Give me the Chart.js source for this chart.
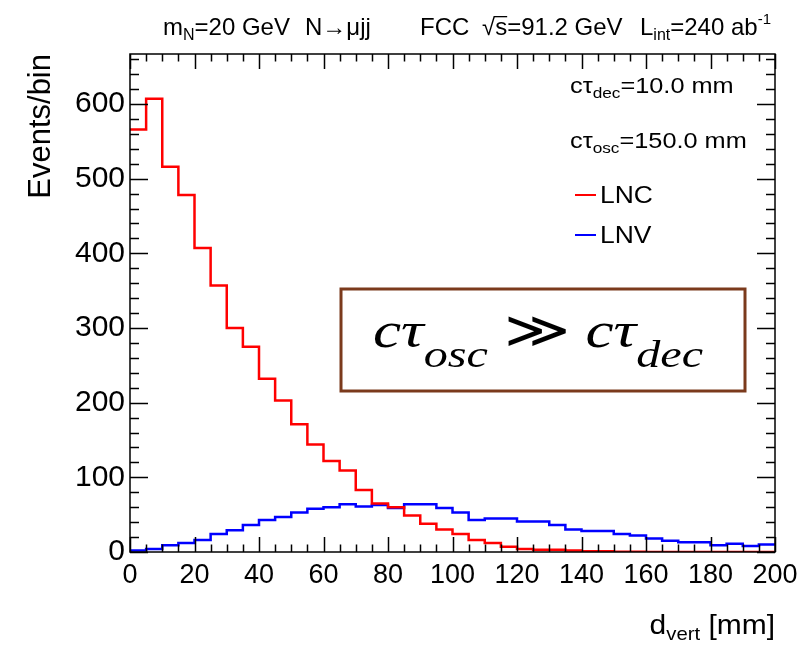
<!DOCTYPE html>
<html>
<head>
<meta charset="utf-8">
<script src="https://cdn.jsdelivr.net/npm/chart.js@4.4.1/dist/chart.umd.min.js"></script>
<style>
  html, body { margin: 0; padding: 0; background: #fff; }
  #wrap { width: 807px; height: 648px; }
</style>
</head>
<body>
<div id="wrap"><canvas id="chart" width="807" height="648"></canvas></div>
<script>
// binning of d_vert [mm]
const binWidth = 5;
const xMin = 0;
const xMax = 200;

// events per bin
const lnc = [566, 607, 516, 478, 407, 357, 300, 275, 232, 203,
             171, 144, 122, 109, 83, 65, 60, 49, 38, 30,
             24, 16, 12, 7, 4, 3, 3, 2, 1, 1,
             0.5, 0.5, 0, 0, 0, 0, 0, 0, 0, 0];
const lnv = [2, 4, 9, 12, 16, 24, 29, 36, 43, 47,
             53, 58, 60, 64, 61, 63, 59, 64, 64, 59,
             53, 43, 45, 45, 41, 41, 36, 30, 28, 28,
             24, 22, 18, 15, 13, 13, 9, 11, 8, 10];

const xTicks = [0, 20, 40, 60, 80, 100, 120, 140, 160, 180, 200];
const yTicks = [0, 100, 200, 300, 400, 500, 600];
const yMax = 667;

const sans = '"Liberation Sans", Arial, Helvetica, sans-serif';
const serif = '"Liberation Serif", "DejaVu Serif", serif';

// histogram -> step points (low edge of each bin, plus closing edge)
function steps(vals) {
  const pts = vals.map((v, i) => ({ x: xMin + i * binWidth, y: v }));
  pts.push({ x: xMin + vals.length * binWidth, y: vals[vals.length - 1] });
  return pts;
}

// text with sub/superscripts: parts = [[text, font, dy], ...], sx = horizontal stretch
function richWidth(ctx, parts, family) {
  let w = 0;
  parts.forEach(p => {
    ctx.font = p[1] + 'px ' + (family || sans);
    w += ctx.measureText(p[0]).width;
  });
  return w;
}
function rich(ctx, parts, x, y, family, sx) {
  ctx.save();
  ctx.translate(x, y);
  ctx.scale(sx || 1, 1);
  let cx = 0;
  parts.forEach(p => {
    ctx.font = p[1] + 'px ' + (family || sans);
    ctx.fillText(p[0], cx, p[2] || 0);
    cx += ctx.measureText(p[0]).width;
  });
  ctx.restore();
}

// ROOT style frame with inner ticks on all four sides
const framePlugin = {
  id: 'frame',
  afterDatasetsDraw(chart) {
    const { ctx, chartArea: a, scales: { x, y } } = chart;
    ctx.save();
    ctx.strokeStyle = '#000';
    ctx.lineWidth = 1.5;
    ctx.strokeRect(a.left, a.top, a.right - a.left, a.bottom - a.top);
    ctx.beginPath();
    for (let v = xMin; v <= xMax; v += binWidth) {
      const px = Math.round(x.getPixelForValue(v)) + 0.5;
      const len = v % 20 === 0 ? 15 : 7.5;
      ctx.moveTo(px, a.bottom); ctx.lineTo(px, a.bottom - len);
      ctx.moveTo(px, a.top); ctx.lineTo(px, a.top + len);
    }
    for (let v = 0; v <= yMax; v += 20) {
      const py = Math.round(y.getPixelForValue(v)) + 0.5;
      const len = v % 100 === 0 ? 18 : 9;
      ctx.moveTo(a.left, py); ctx.lineTo(a.left + len, py);
      ctx.moveTo(a.right, py); ctx.lineTo(a.right - len, py);
    }
    ctx.stroke();
    ctx.restore();
  }
};

const textPlugin = {
  id: 'texts',
  afterDraw(chart) {
    const { ctx, chartArea: a } = chart;
    ctx.save();
    ctx.fillStyle = '#000';
    ctx.textBaseline = 'alphabetic';
    ctx.textAlign = 'left';

    // header, phrase by phrase
    const hy = 35;
    rich(ctx, [['m', 24], ['N', 16, 5], ['=20 GeV', 24]], 163, hy);
    rich(ctx, [['N\u2192\u03bcjj', 24]], 305, hy);
    rich(ctx, [['FCC', 24]], 420, hy);
    rich(ctx, [['\u221as=91.2 GeV', 24]], 482, hy);
    ctx.font = '24px ' + sans;
    const rootW = ctx.measureText('\u221a').width;
    const sW = ctx.measureText('s').width;
    ctx.fillRect(482 + rootW - 1, hy - 19, sW + 1, 1.3);
    rich(ctx, [['L', 24], ['int', 16, 5], ['=240 ab', 24], ['-1', 15, -11]], 640, hy);

    // parameters
    rich(ctx, [['c\u03c4', 22], ['dec', 15, 5], ['=10.0 mm', 22]], 570, 93, sans, 1.15);
    rich(ctx, [['c\u03c4', 22], ['osc', 15, 5], ['=150.0 mm', 22]], 570, 148, sans, 1.15);

    // legend
    chart.data.datasets.forEach((ds, i) => {
      const yy = 195 + i * 40;
      ctx.strokeStyle = ds.borderColor;
      ctx.lineWidth = 2;
      ctx.beginPath(); ctx.moveTo(575, yy); ctx.lineTo(596, yy); ctx.stroke();
      rich(ctx, [[ds.label, 23]], 600, yy + 8, sans, 1.15);
    });

    // axis titles
    ctx.save();
    ctx.translate(50, a.top);
    ctx.rotate(-Math.PI / 2);
    ctx.textAlign = 'right';
    ctx.font = '31px ' + sans;
    ctx.fillText('Events/bin', 0, 0);
    ctx.restore();

    const xt = [['d', 28], ['vert', 19, 6], [' [mm]', 28]];
    const xs = 1.07;
    rich(ctx, xt, a.right - richWidth(ctx, xt) * xs, 634, sans, xs);

    // boxed annotation
    ctx.strokeStyle = '#7b3a1c';
    ctx.lineWidth = 3;
    ctx.strokeRect(341, 289, 404, 102);
    const ann = [['c\u03c4', 'italic 50', 0], ['osc', 'italic 38', 20], [' \u226b ', '50', 0],
                 ['c\u03c4', 'italic 50', 0], ['dec', 'italic 38', 20]];
    const aw = richWidth(ctx, ann, serif);
    rich(ctx, ann, 373, 347, serif, 330 / aw);
    ctx.restore();
  }
};

new Chart(document.getElementById('chart'), {
  type: 'line',
  data: {
    datasets: [
      { label: 'LNC', data: steps(lnc), borderColor: '#ff0000', borderWidth: 2.5,
        stepped: 'before', pointRadius: 0, fill: false },
      { label: 'LNV', data: steps(lnv), borderColor: '#0000ff', borderWidth: 2.5,
        stepped: 'before', pointRadius: 0, fill: false }
    ]
  },
  options: {
    responsive: false,
    animation: false,
    layout: { padding: { left: 0, right: 32, top: 54, bottom: 0 } },
    plugins: { legend: { display: false }, tooltip: { enabled: false } },
    scales: {
      x: {
        type: 'linear', min: xMin, max: xMax,
        grid: { display: false, drawTicks: false },
        border: { display: false },
        afterBuildTicks: s => { s.ticks = xTicks.map(v => ({ value: v })); },
        afterFit: s => { s.height = 96; },
        ticks: { color: '#000', font: { family: sans, size: 27 }, padding: 7,
                 maxRotation: 0, autoSkip: false }
      },
      y: {
        min: 0, max: yMax,
        grid: { display: false, drawTicks: false },
        border: { display: false },
        afterBuildTicks: s => { s.ticks = yTicks.map(v => ({ value: v })); },
        afterFit: s => { s.width = 130; },
        ticks: { color: '#000', font: { family: sans, size: 30 }, padding: 5 }
      }
    }
  },
  plugins: [framePlugin, textPlugin]
});
</script>
</body>
</html>
